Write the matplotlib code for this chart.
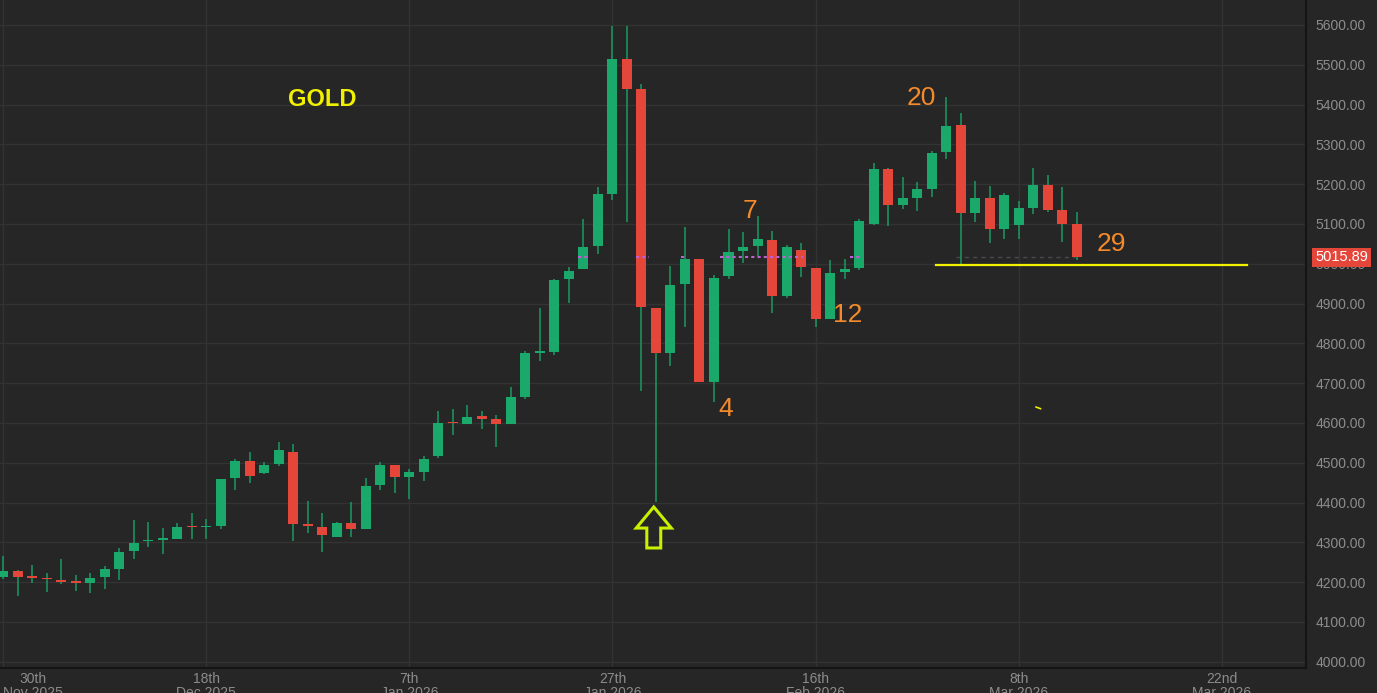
import numpy as np
import matplotlib
matplotlib.use("Agg")
import matplotlib.pyplot as plt
from matplotlib.patches import Polygon

# ---------------- data ----------------
opens = [4212, 4227, 4215, 4209, 4205, 4201, 4197, 4212, 4234, 4278,
         4303, 4307, 4309, 4340, 4338, 4340, 4462, 4504, 4474, 4496,
         4526, 4345, 4339, 4313, 4349, 4334, 4444, 4494, 4465, 4477,
         4518, 4601, 4598, 4617, 4610, 4598, 4666, 4777, 4779, 4961,
         4988, 5045, 5176, 5514, 5438, 4888, 4777, 4948, 5012, 4704,
         4969, 5032, 5045, 5061, 4920, 5034, 4990, 4861, 4980, 4989,
         5100, 5238, 5147, 5165, 5187, 5281, 5348, 5128, 5165, 5088,
         5097, 5141, 5199, 5134, 5100]
highs = [4266, 4231, 4243, 4222, 4258, 4219, 4222, 4241, 4287, 4356,
         4352, 4336, 4348, 4373, 4359, 4460, 4510, 4526, 4502, 4551,
         4547, 4405, 4373, 4350, 4401, 4461, 4501, 4494, 4484, 4516,
         4631, 4634, 4644, 4630, 4620, 4691, 4781, 4888, 4961, 4991,
         5113, 5192, 5597, 5597, 5452, 4888, 4995, 5093, 5013, 4972,
         5087, 5081, 5121, 5083, 5046, 5053, 4990, 5010, 5011, 5112,
         5253, 5240, 5217, 5206, 5283, 5420, 5380, 5208, 5195, 5177,
         5159, 5240, 5224, 5193, 5130]
lows = [4207, 4165, 4197, 4175, 4195, 4179, 4172, 4182, 4205, 4259,
        4288, 4272, 4309, 4309, 4309, 4334, 4432, 4450, 4473, 4493,
        4303, 4324, 4275, 4313, 4313, 4334, 4431, 4424, 4409, 4455,
        4511, 4570, 4598, 4586, 4539, 4598, 4660, 4757, 4772, 4901,
        4988, 5024, 5160, 5106, 4681, 4402, 4744, 4842, 4703, 4654,
        4962, 5001, 5020, 4877, 4913, 4966, 4840, 4861, 4963, 4984,
        5098, 5095, 5138, 5133, 5168, 5263, 4999, 5106, 5053, 5062,
        5062, 5124, 5131, 5055, 5010]
closes = [4227, 4212, 4210, 4207, 4200, 4198, 4211, 4234, 4277, 4298,
          4305, 4309, 4339, 4338, 4340, 4459, 4504, 4468, 4494, 4532,
          4347, 4342, 4318, 4349, 4334, 4442, 4494, 4465, 4476, 4510,
          4601, 4599, 4616, 4611, 4598, 4666, 4775, 4779, 4959, 4982,
          5043, 5175, 5514, 5439, 4892, 4777, 4946, 5012, 4704, 4965,
          5030, 5043, 5062, 4920, 5043, 4992, 4861, 4978, 4988, 5108,
          5238, 5147, 5165, 5187, 5278, 5345, 5128, 5165, 5088, 5174,
          5140, 5199, 5134, 5100, 5015.89]

last_price = 5015.89
tick_pos = [0, 14, 28, 42, 56, 70, 84]
tick_labels = ["30th\nNov 2025", "18th\nDec 2025", "7th\nJan 2026", "27th\nJan 2026",
               "16th\nFeb 2026", "8th\nMar 2026", "22nd\nMar 2026"]
y_ticks = list(range(4000, 5700, 100))

# annotations (label, x index, price)
notes = [("20", 63.3, 5417), ("7", 51.5, 5133), ("12", 58.2, 4871),
         ("4", 49.8, 4635), ("29", 76.4, 5050)]
support_level = 4998
support_span = (64.3, 85.7)
arrow_x = 44.85
arrow_top, arrow_neck, arrow_bottom = 4389, 4336, 4286
magenta_segments = [(39.6, 40.4), (43.6, 44.5), (46.7, 47.0), (49.4, 55.1), (58.4, 59.2)]

# ---------------- style ----------------
BG = "#262626"
GRID = "#333333"
GREEN = "#1ba96b"
RED = "#e4463a"
WICK = "#1b9a63"
LABEL = "#8c8c8c"
ORANGE = "#f58a2a"
YELLOW = "#f0f000"

plt.rcParams['font.family'] = ['Liberation Sans', 'DejaVu Sans']

fig = plt.figure(figsize=(13.77, 6.93), dpi=100, facecolor=BG)
ax = fig.add_axes([0.0, 1 - 668 / 693, 1306 / 1377, 668 / 693])
ax.set_facecolor(BG)

o = np.array(opens, float)
h = np.array(highs, float)
l = np.array(lows, float)
c = np.array(closes, float)
x = np.arange(len(o))
up = c >= o
colors = np.where(up, GREEN, RED)

ax.vlines(x, l, h, color=WICK, linewidth=1.1, zorder=2)
bottoms = np.minimum(o, c)
heights = np.maximum(np.abs(c - o), 4)
ax.bar(x, heights, bottom=bottoms, width=0.69, color=colors, linewidth=0, zorder=3)

# level lines
for a, b in magenta_segments:
    ax.plot([a, b], [last_price, last_price], color="#c060d0", lw=1.5,
            linestyle=(0, (1.5, 1.5)), zorder=4)
ax.plot([65.7, 73.9], [last_price, last_price], color="#4a4a4a", lw=1,
        linestyle=(0, (3, 3)), zorder=1.5)
ax.plot(support_span, [support_level, support_level], color=YELLOW, lw=1.6, zorder=4)
ax.plot([71.2, 71.5], [4640, 4636], color=YELLOW, lw=1.2, zorder=4)

# arrow outline
hw, sw = 1.21, 0.48
arrow = Polygon([(arrow_x, arrow_top), (arrow_x + hw, arrow_neck), (arrow_x + sw, arrow_neck),
                 (arrow_x + sw, arrow_bottom), (arrow_x - sw, arrow_bottom),
                 (arrow_x - sw, arrow_neck), (arrow_x - hw, arrow_neck)],
                closed=True, fill=False, edgecolor="#c8f000", linewidth=2.2, zorder=5,
                joinstyle='miter')
ax.add_patch(arrow)

# texts
ax.text(22.0, 5414, "GOLD", color=YELLOW, fontsize=17, fontweight='bold',
        ha='center', va='center', zorder=6)
for t, xi, yi in notes:
    ax.text(xi, yi, t, color=ORANGE, fontsize=19, ha='center', va='center', zorder=6)

# axes
ax.set_xlim(-0.207, 89.8)
ax.set_ylim(3984.4, 5662.8)
ax.set_yticks(y_ticks)
ax.set_yticklabels([f"{v:.2f}" for v in y_ticks])
ax.yaxis.tick_right()
ax.set_xticks(tick_pos)
ax.set_xticklabels(tick_labels, linespacing=0.95)
ax.tick_params(axis='both', length=0, colors=LABEL, labelsize=10)
ax.tick_params(axis='y', pad=7)
ax.tick_params(axis='x', pad=3)
first = ax.get_xticklabels()[0]
first.set_ha('left')
first.set_multialignment('center')
ax.grid(True, color=GRID, linewidth=1)
ax.set_axisbelow(True)
for s in ['top', 'left']:
    ax.spines[s].set_visible(False)
for s in ['bottom', 'right']:
    ax.spines[s].set_color("#141414")
    ax.spines[s].set_linewidth(1.5)

# last price tag
ax.text(1.0 + 9 / 1306, last_price, f"{last_price:.2f}", transform=ax.get_yaxis_transform(),
        color="white", fontsize=10.5, ha='left', va='center', clip_on=False, zorder=10,
        bbox=dict(boxstyle='square,pad=0.2', facecolor=RED, edgecolor='none'))

fig.savefig("out.png", dpi=100, facecolor=BG)
